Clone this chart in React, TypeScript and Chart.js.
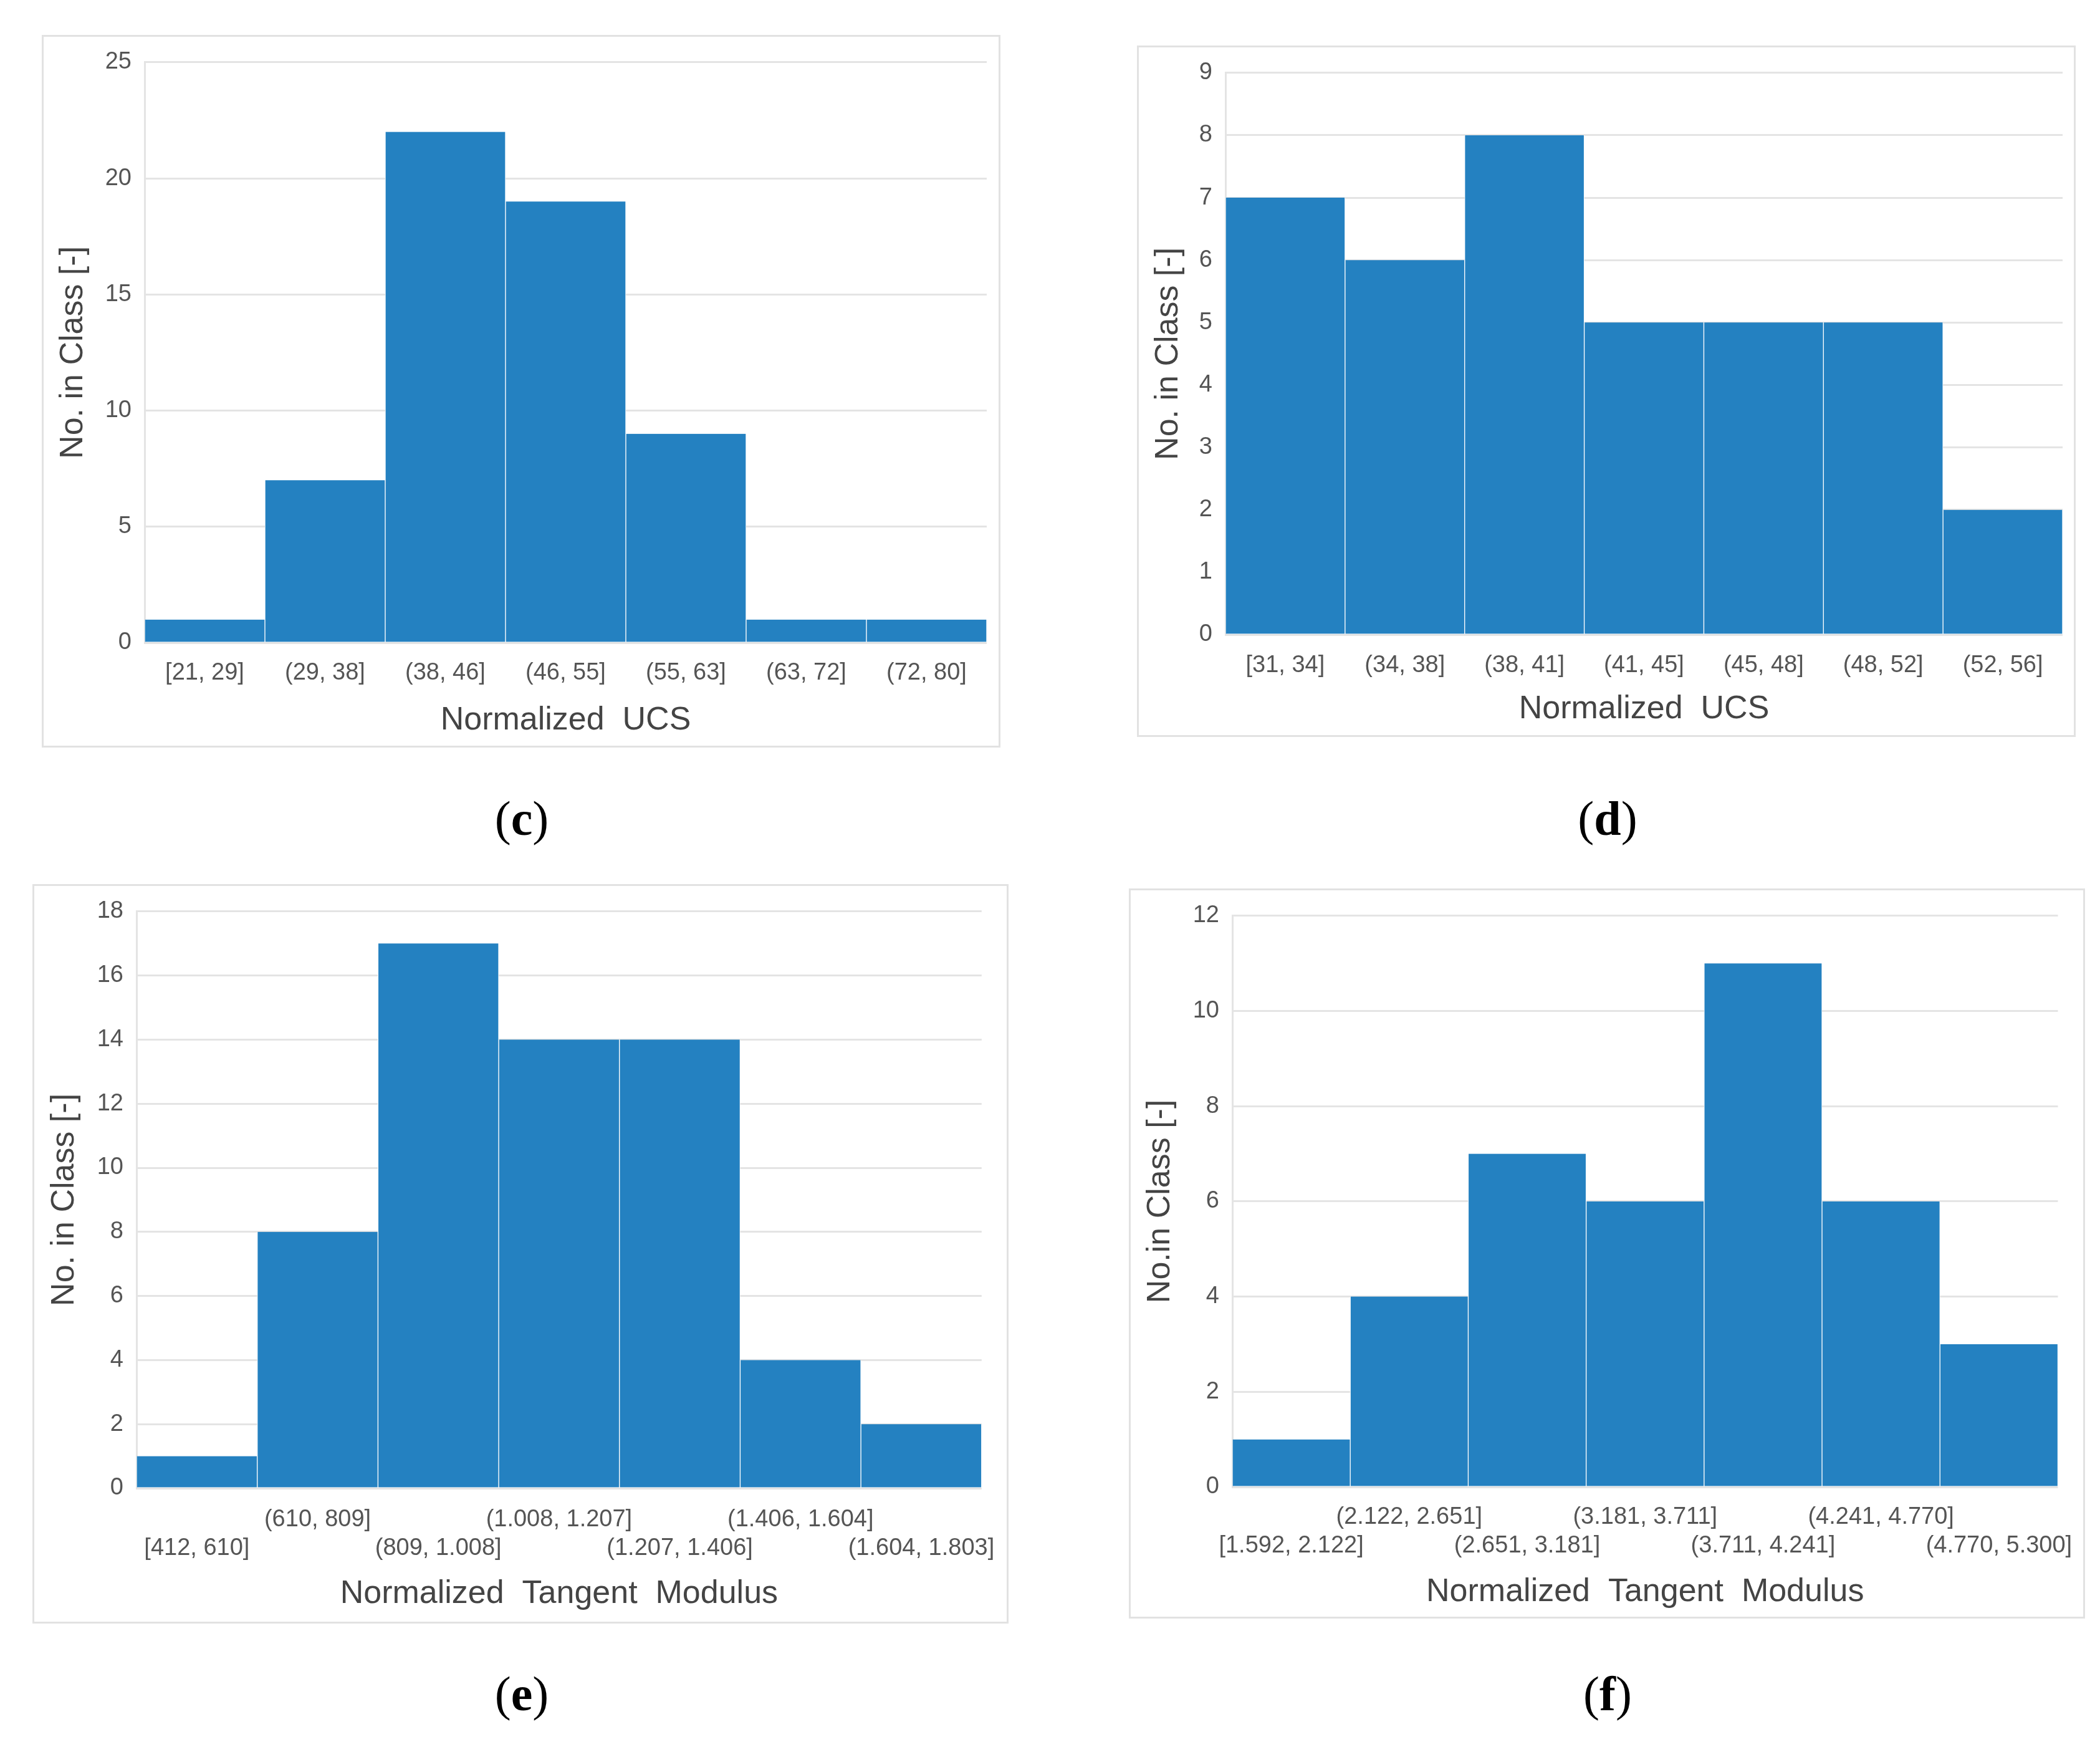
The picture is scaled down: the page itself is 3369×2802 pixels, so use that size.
import React, { useEffect, useRef } from 'react';
import { Chart, registerables } from 'chart.js';

Chart.register(...registerables);

// ---------- data ----------
const ucsClassesC = ['[21, 29]', '(29, 38]', '(38, 46]', '(46, 55]', '(55, 63]', '(63, 72]', '(72, 80]'];
const ucsCountsC = [1, 7, 22, 19, 9, 1, 1];

const ucsClassesD = ['[31, 34]', '(34, 38]', '(38, 41]', '(41, 45]', '(45, 48]', '(48, 52]', '(52, 56]'];
const ucsCountsD = [7, 6, 8, 5, 5, 5, 2];

const modClassesE = ['[412, 610]', '(610, 809]', '(809, 1.008]', '(1.008, 1.207]', '(1.207, 1.406]', '(1.406, 1.604]', '(1.604, 1.803]'];
const modCountsE = [1, 8, 17, 14, 14, 4, 2];

const modClassesF = ['[1.592, 2.122]', '(2.122, 2.651]', '(2.651, 3.181]', '(3.181, 3.711]', '(3.711, 4.241]', '(4.241, 4.770]', '(4.770, 5.300]'];
const modCountsF = [1, 4, 7, 6, 11, 6, 3];

const yTicksC = { max: 25, step: 5 };
const yTicksD = { max: 9, step: 1 };
const yTicksE = { max: 18, step: 2 };
const yTicksF = { max: 12, step: 2 };

// ---------- styles ----------
const BAR = '#2481C1';
const GRID = '#e4e4e4';
const SANS = '"Liberation Sans", Arial, sans-serif';

const framePlugin = {
  id: 'frame',
  beforeDraw(chart: any) {
    const { ctx, width, height } = chart;
    ctx.save();
    ctx.fillStyle = '#ffffff';
    ctx.fillRect(0, 0, width, height);
    ctx.strokeStyle = '#e2e2e2';
    ctx.lineWidth = 3;
    ctx.strokeRect(1.5, 1.5, width - 3, height - 3);
    ctx.restore();
  },
};

type PanelProps = {
  left: number; top: number; width: number; height: number;
  labels: string[]; values: number[]; yMax: number; yStep: number;
  xTitle: string; yTitle: string; twoRow: boolean;
  padTop: number; padRight: number; yW: number; xH: number;
  yTitlePad: number; xTickPad: number; xTitlePad: number;
};

function Panel(p: PanelProps) {
  const ref = useRef<HTMLCanvasElement | null>(null);
  useEffect(() => {
    if (!ref.current) return;
    const chart = new Chart(ref.current, {
      type: 'bar',
      data: {
        labels: p.labels,
        datasets: [
          {
            data: p.values,
            backgroundColor: BAR,
            borderColor: '#ffffff',
            borderWidth: { left: 1, right: 1, top: 0, bottom: 0 } as any,
            barPercentage: 1,
            categoryPercentage: 1,
          },
        ],
      },
      options: {
        responsive: false,
        animation: false,
        devicePixelRatio: 1,
        layout: { padding: { left: 0, top: p.padTop, right: p.padRight, bottom: 0 } },
        plugins: { legend: { display: false }, tooltip: { enabled: false } },
        scales: {
          x: {
            grid: { display: false },
            border: { display: false },
            ticks: {
              autoSkip: false,
              maxRotation: 0,
              minRotation: 0,
              padding: p.xTickPad,
              color: '#555555',
              font: { family: SANS, size: 38, lineHeight: 1.2 },
              callback: (_v: any, i: number) =>
                p.twoRow ? (i % 2 === 1 ? [p.labels[i], ''] : ['', p.labels[i]]) : p.labels[i],
            },
            title: {
              display: true,
              text: p.xTitle,
              color: '#444444',
              font: { family: SANS, size: 52, lineHeight: 1.2 },
              padding: { top: 0, bottom: p.xTitlePad },
            },
            afterFit: (s: any) => { s.height = p.xH; },
          },
          y: {
            min: 0,
            max: p.yMax,
            ticks: {
              stepSize: p.yStep,
              padding: 21,
              color: '#555555',
              font: { family: SANS, size: 38 },
            },
            grid: { color: GRID, lineWidth: 3, drawTicks: false },
            border: { display: true, color: GRID, width: 3 },
            title: {
              display: true,
              text: p.yTitle,
              color: '#444444',
              font: { family: SANS, size: 52, lineHeight: 1.2 },
              padding: { top: p.yTitlePad, bottom: 0 },
            },
            afterFit: (s: any) => { s.width = p.yW; },
          },
        },
      },
      plugins: [framePlugin],
    } as any);
    return () => chart.destroy();
  }, []);
  return (
    <canvas
      ref={ref}
      width={p.width}
      height={p.height}
      style={{ position: 'absolute', left: p.left, top: p.top, width: p.width, height: p.height }}
    />
  );
}

function PanelLabel({ letter, cx, cy }: { letter: string; cx: number; cy: number }) {
  return (
    <div
      style={{
        position: 'absolute',
        left: cx,
        top: cy,
        transform: 'translate(-50%, -50%)',
        fontFamily: '"Liberation Serif", "Times New Roman", serif',
        fontSize: 78,
        color: '#000',
        whiteSpace: 'nowrap',
        lineHeight: 1,
      }}
    >
      (<b>{letter}</b>)
    </div>
  );
}

export default function App() {
  return (
    <div style={{ position: 'absolute', left: 0, top: 0, width: 3369, height: 2802, background: '#fff', overflow: 'hidden' }}>
      <Panel
        left={67} top={56} width={1538} height={1143}
        labels={ucsClassesC} values={ucsCountsC} yMax={yTicksC.max} yStep={yTicksC.step}
        xTitle="Normalized  UCS" yTitle="No. in Class [-]" twoRow={false}
        padTop={39} padRight={22} yW={165} xH={168}
        yTitlePad={19} xTickPad={18} xTitlePad={12}
      />
      <Panel
        left={1824} top={73} width={1506} height={1109}
        labels={ucsClassesD} values={ucsCountsD} yMax={yTicksD.max} yStep={yTicksD.step}
        xTitle="Normalized  UCS" yTitle="No. in Class [-]" twoRow={false}
        padTop={39} padRight={21} yW={142} xH={164}
        yTitlePad={19} xTickPad={19} xTitlePad={13}
      />
      <Panel
        left={52} top={1418} width={1566} height={1186}
        labels={modClassesE} values={modCountsE} yMax={yTicksE.max} yStep={yTicksE.step}
        xTitle="Normalized  Tangent  Modulus" yTitle="No. in Class [-]" twoRow={true}
        padTop={41} padRight={39} yW={167} xH={217}
        yTitlePad={20} xTickPad={20} xTitlePad={16}
      />
      <Panel
        left={1811} top={1425} width={1534} height={1171}
        labels={modClassesF} values={modCountsF} yMax={yTicksF.max} yStep={yTicksF.step}
        xTitle="Normalized  Tangent  Modulus" yTitle="No.in Class [-]" twoRow={true}
        padTop={38} padRight={40} yW={166} xH={211}
        yTitlePad={19} xTickPad={18} xTitlePad={11}
      />
      <PanelLabel letter="c" cx={837} cy={1313} />
      <PanelLabel letter="d" cx={2579} cy={1313} />
      <PanelLabel letter="e" cx={837} cy={2717} />
      <PanelLabel letter="f" cx={2579} cy={2717} />
    </div>
  );
}
